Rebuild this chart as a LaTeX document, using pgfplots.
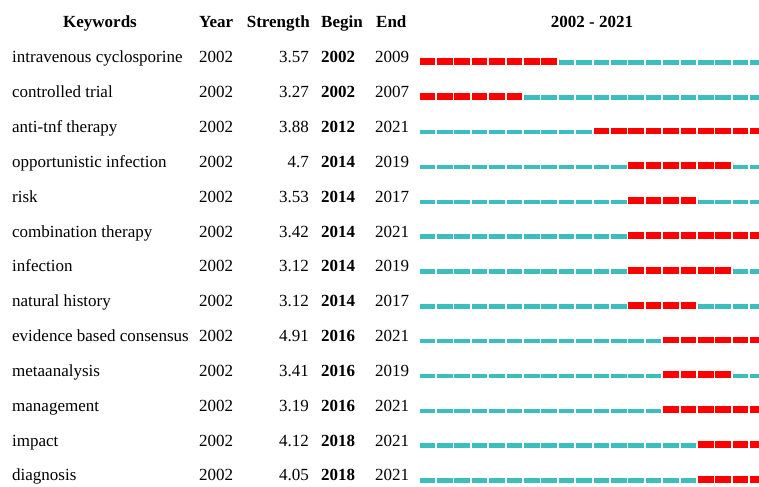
\documentclass[border=0pt]{standalone}
\usepackage{pgfplots}
\pgfplotsset{compat=1.18}
\usepackage{fontspec}
\setmainfont{Liberation Serif}
\definecolor{cyanbar}{RGB}{60,190,190}
\definecolor{redbar}{RGB}{255,0,0}
\begin{document}
\begin{tikzpicture}
\begin{axis}[name=ax, hide axis, x=17.4bp, y=1bp,
  xmin=1977.891, xmax=2021.512, ymin=0, ymax=483, y dir=reverse, clip=true,
  cy/.style={cyanbar, line width=4.4bp, dash pattern=on 15.7bp off 1.7bp},
  rd/.style={redbar, line width=6.7bp, dash pattern=on 15.7bp off 1.7bp}]
% row 1: intravenous cyclosporine 2002-2009
\addplot[cy] coordinates {(2002,62.50) (2022,62.50)};
\addplot[rd] coordinates {(2002,61.35) (2010,61.35)};
% row 2: controlled trial 2002-2007
\addplot[cy] coordinates {(2002,97.33) (2022,97.33)};
\addplot[rd] coordinates {(2002,96.18) (2008,96.18)};
% row 3: anti-tnf therapy 2012-2021
\addplot[cy] coordinates {(2002,132.16) (2022,132.16)};
\addplot[rd] coordinates {(2012,131.01) (2022,131.01)};
% row 4: opportunistic infection 2014-2019
\addplot[cy] coordinates {(2002,166.99) (2022,166.99)};
\addplot[rd] coordinates {(2014,165.84) (2020,165.84)};
% row 5: risk 2014-2017
\addplot[cy] coordinates {(2002,201.82) (2022,201.82)};
\addplot[rd] coordinates {(2014,200.67) (2018,200.67)};
% row 6: combination therapy 2014-2021
\addplot[cy] coordinates {(2002,236.65) (2022,236.65)};
\addplot[rd] coordinates {(2014,235.50) (2022,235.50)};
% row 7: infection 2014-2019
\addplot[cy] coordinates {(2002,271.48) (2022,271.48)};
\addplot[rd] coordinates {(2014,270.33) (2020,270.33)};
% row 8: natural history 2014-2017
\addplot[cy] coordinates {(2002,306.31) (2022,306.31)};
\addplot[rd] coordinates {(2014,305.16) (2018,305.16)};
% row 9: evidence based consensus 2016-2021
\addplot[cy] coordinates {(2002,341.14) (2022,341.14)};
\addplot[rd] coordinates {(2016,339.99) (2022,339.99)};
% row 10: metaanalysis 2016-2019
\addplot[cy] coordinates {(2002,375.97) (2022,375.97)};
\addplot[rd] coordinates {(2016,374.82) (2020,374.82)};
% row 11: management 2016-2021
\addplot[cy] coordinates {(2002,410.80) (2022,410.80)};
\addplot[rd] coordinates {(2016,409.65) (2022,409.65)};
% row 12: impact 2018-2021
\addplot[cy] coordinates {(2002,445.63) (2022,445.63)};
\addplot[rd] coordinates {(2018,444.48) (2022,444.48)};
% row 13: diagnosis 2018-2021
\addplot[cy] coordinates {(2002,480.46) (2022,480.46)};
\addplot[rd] coordinates {(2018,479.31) (2022,479.31)};
\end{axis}
\tikzset{txt/.style={inner sep=0pt, font=\fontsize{17bp}{20bp}\selectfont},
         btxt/.style={inner sep=0pt, font=\fontsize{17bp}{20bp}\selectfont\bfseries}}
% header
\node[btxt, anchor=base] at ([xshift=100bp, yshift=-28bp]ax.north west) {Keywords};
\node[btxt, anchor=base west] at ([xshift=199bp, yshift=-28bp]ax.north west) {Year};
\node[btxt, anchor=base east] at ([xshift=310bp, yshift=-28bp]ax.north west) {Strength};
\node[btxt, anchor=base west] at ([xshift=321bp, yshift=-28bp]ax.north west) {Begin};
\node[btxt, anchor=base west] at ([xshift=376bp, yshift=-28bp]ax.north west) {End};
\node[btxt, anchor=base] at ([xshift=592bp, yshift=-28bp]ax.north west) {2002 - 2021};
% rows
\foreach \k/\s/\b/\e [count=\i from 0] in {
  intravenous cyclosporine/3.57/2002/2009,
  controlled trial/3.27/2002/2007,
  anti-tnf therapy/3.88/2012/2021,
  opportunistic infection/4.7/2014/2019,
  risk/3.53/2014/2017,
  combination therapy/3.42/2014/2021,
  infection/3.12/2014/2019,
  natural history/3.12/2014/2017,
  evidence based consensus/4.91/2016/2021,
  metaanalysis/3.41/2016/2019,
  management/3.19/2016/2021,
  impact/4.12/2018/2021,
  diagnosis/4.05/2018/2021}{
  \pgfmathsetmacro\yy{63+34.83*\i}
  \node[txt, anchor=base west] at ([xshift=12bp, yshift=-\yy bp]ax.north west) {\k};
  \node[txt, anchor=base west] at ([xshift=199bp, yshift=-\yy bp]ax.north west) {2002};
  \node[txt, anchor=base east] at ([xshift=309bp, yshift=-\yy bp]ax.north west) {\s};
  \node[btxt, anchor=base west] at ([xshift=321bp, yshift=-\yy bp]ax.north west) {\b};
  \node[txt, anchor=base west] at ([xshift=375bp, yshift=-\yy bp]ax.north west) {\e};
}
\pgfresetboundingbox
\useasboundingbox ([yshift=-4bp]ax.south west) rectangle (ax.north east);
\end{tikzpicture}
\end{document}
